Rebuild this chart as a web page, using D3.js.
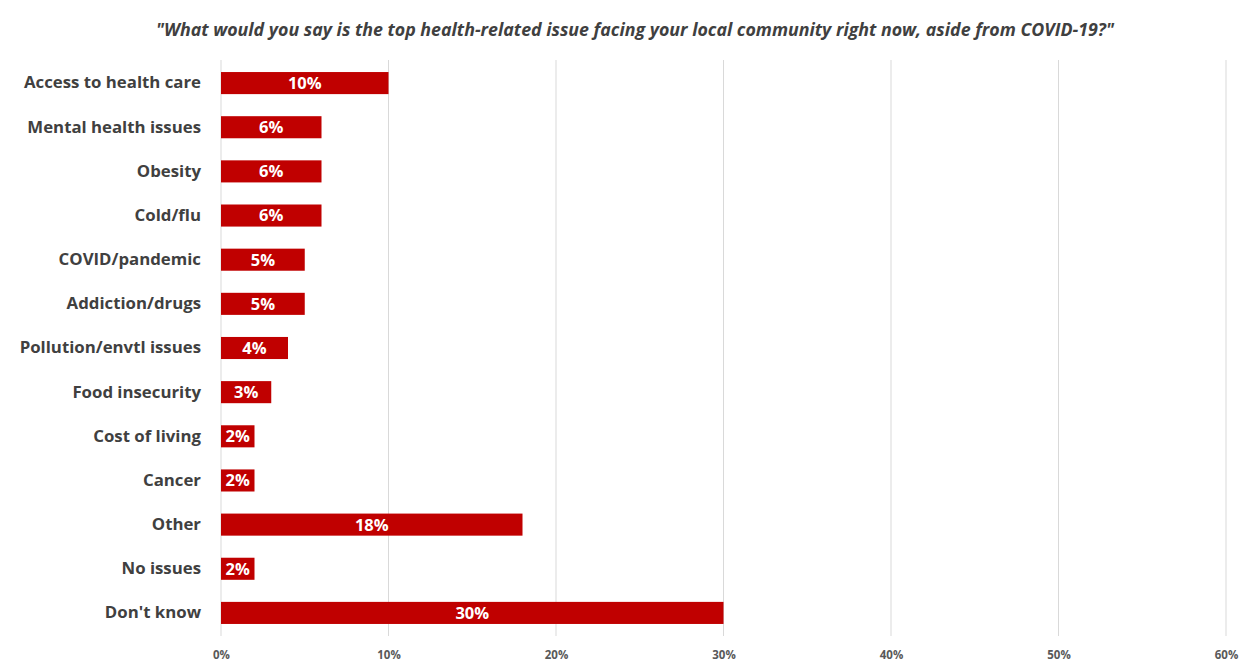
<!DOCTYPE html>
<html>
<head>
<meta charset="utf-8">
<script src="https://cdn.jsdelivr.net/npm/d3@7"></script>
<style>
  html, body { margin: 0; padding: 0; background: #ffffff; }
  svg { display: block; }
</style>
</head>
<body>
<svg id="chart" width="1254" height="669"></svg>
<script>
// Survey responses: top health-related issue in the local community
const categories = [
  "Access to health care", "Mental health issues", "Obesity", "Cold/flu",
  "COVID/pandemic", "Addiction/drugs", "Pollution/envtl issues", "Food insecurity",
  "Cost of living", "Cancer", "Other", "No issues", "Don't know"
];
const values = [10, 6, 6, 6, 5, 5, 4, 3, 2, 2, 18, 2, 30];
const tickValues = [0, 10, 20, 30, 40, 50, 60];
const title = "\"What would you say is the top health-related issue facing your local community right now, aside from COVID-19?\"";

const svg = d3.select("#chart");
const fontFamily = "'Open Sans', Lato, sans-serif";

const x = d3.scaleLinear().domain([0, 60]).range([221, 1226]);
const y = d3.scaleBand().domain(categories).range([61, 635]).paddingInner(0.5).paddingOuter(0.25);

// Title
svg.append("text")
  .attr("x", 635).attr("y", 36)
  .attr("text-anchor", "middle")
  .attr("font-family", fontFamily)
  .attr("font-size", 17.8)
  .attr("font-weight", "bold")
  .attr("font-style", "italic")
  .attr("fill", "#404040")
  .text(title);

// Vertical gridlines
svg.append("g")
  .selectAll("line")
  .data(tickValues)
  .join("line")
  .attr("x1", d => x(d)).attr("x2", d => x(d))
  .attr("y1", 60).attr("y2", 636)
  .attr("stroke", "#d9d9d9")
  .attr("stroke-width", 1);

// X axis tick labels
const xAxis = d3.axisBottom(x)
  .tickValues(tickValues)
  .tickFormat(d => d + "%")
  .tickSize(0)
  .tickPadding(0);
const gx = svg.append("g").attr("transform", "translate(0,651)").call(xAxis);
gx.select(".domain").remove();
gx.selectAll("text")
  .attr("font-family", fontFamily)
  .attr("font-size", 11.5)
  .attr("font-weight", "bold")
  .attr("fill", "#595959");

// Category labels
const yAxis = d3.axisLeft(y).tickSize(0).tickPadding(20);
const gy = svg.append("g").attr("transform", "translate(221,0)").call(yAxis);
gy.select(".domain").remove();
gy.selectAll("text")
  .attr("font-family", fontFamily)
  .attr("font-size", 16.8)
  .attr("font-weight", "bold")
  .attr("fill", "#404040");

// Bars
const rows = categories.map((c, i) => ({ category: c, value: values[i] }));
svg.append("g")
  .selectAll("rect")
  .data(rows)
  .join("rect")
  .attr("x", x(0))
  .attr("y", d => y(d.category))
  .attr("width", d => x(d.value) - x(0))
  .attr("height", y.bandwidth())
  .attr("fill", "#c00000");

// Value labels inside bars
svg.append("g")
  .selectAll("text")
  .data(rows)
  .join("text")
  .attr("x", d => (x(0) + x(d.value)) / 2)
  .attr("y", d => y(d.category) + y.bandwidth() / 2)
  .attr("dy", "0.36em")
  .attr("text-anchor", "middle")
  .attr("font-family", fontFamily)
  .attr("font-size", 16.5)
  .attr("font-weight", "bold")
  .attr("fill", "#ffffff")
  .text(d => d.value + "%");
</script>
</body>
</html>
